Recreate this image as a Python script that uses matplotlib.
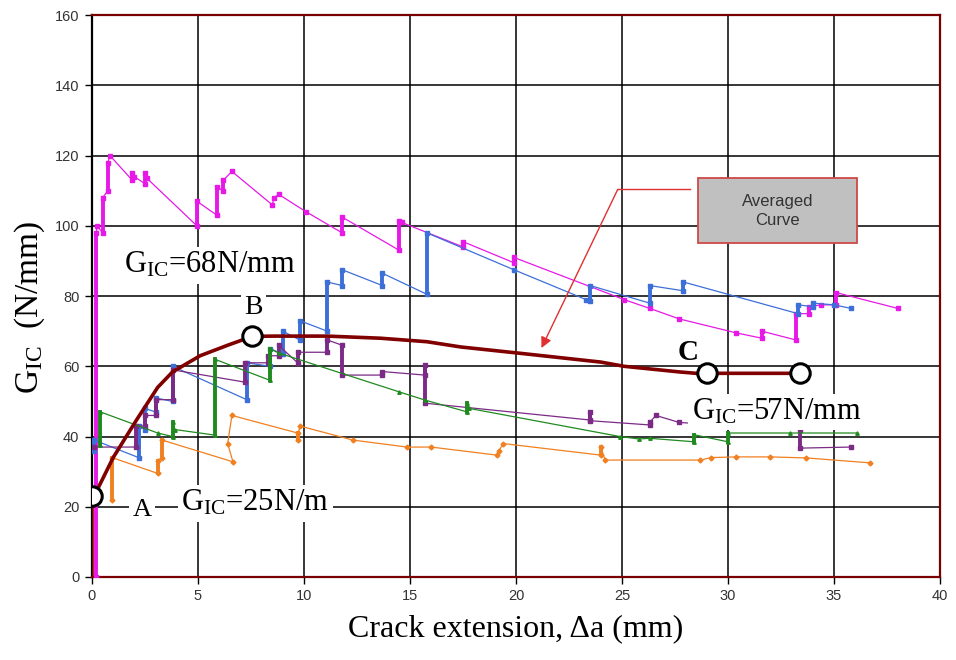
import matplotlib
matplotlib.use("Agg")
import matplotlib.pyplot as plt
from matplotlib.patches import Rectangle

plt.rcParams["mathtext.fontset"] = "custom"
plt.rcParams["mathtext.rm"] = "Liberation Serif"
plt.rcParams["mathtext.it"] = "Liberation Serif:italic"

# ---- data (crack extension mm, G_IC N/mm) ----
mag_x = [0.2, 0.2, 0.25, 0.5, 0.5, 0.75, 0.75, 0.85, 1.9, 1.9, 2.0, 2.5, 2.5, 2.6, 4.95, 4.95,
         5.9, 5.9, 6.2, 6.2, 6.6, 8.5, 8.6, 8.8, 10.1, 11.8, 11.8, 14.5, 14.5, 14.6, 17.5, 17.5,
         19.9, 19.9, 25.1, 26.3, 27.7, 30.4, 31.6, 31.6, 33.2, 33.2, 33.8, 33.8, 34.4, 35.1, 35.1, 38.0]
mag_y = [0, 98, 100, 98, 108, 110, 118, 120, 113, 115, 114, 112, 115, 113.5, 100, 107,
         103, 111, 110, 113, 115.5, 106, 108, 109, 104, 98, 102.5, 93, 101.5, 101, 94, 95.5,
         89.5, 91, 79, 76.5, 73.5, 69.5, 68, 70, 67.5, 75, 75, 77, 77.5, 77.5, 81, 76.5]

blue_x = [0.1, 0.1, 2.2, 2.2, 2.5, 2.5, 3.0, 3.0, 3.8, 3.8, 7.3, 7.3, 8.4, 8.4, 9.0, 9.0, 9.8, 9.8,
          11.1, 11.1, 11.8, 11.8, 13.7, 13.7, 15.8, 15.8, 19.9, 23.3, 23.5, 23.5, 26.3, 26.3,
          27.9, 27.9, 33.3, 33.3, 34.0, 34.0, 35.0, 35.8]
blue_y = [36, 39, 34, 43, 42, 48, 47, 51, 50, 60, 50.5, 61, 60, 65, 63.5, 70, 67.5, 73,
          70, 84, 83, 87.5, 83, 86.5, 80.5, 98, 87.5, 79, 78.5, 83, 78, 83,
          81.5, 84, 75, 77.5, 77, 78, 77.5, 76.5]

pur_x = [0.1, 2.1, 2.1, 2.5, 2.5, 3.0, 3.0, 3.8, 3.8, 7.2, 7.2, 8.3, 8.3, 8.8, 8.8, 9.7, 9.7,
         11.1, 11.1, 11.8, 11.8, 13.7, 13.7, 15.7, 15.7, 15.7, 23.5, 23.5, 23.5, 26.3, 26.3,
         26.6, 27.7, 33.4, 33.4, 35.8]
pur_y = [37, 37, 43, 43, 46, 46, 50.5, 50.5, 59, 55.5, 61, 61, 63, 63, 66, 61, 64,
         64, 67.5, 66, 57.5, 57.5, 58.5, 57.5, 60.5, 49.5, 44.7, 47, 44.5, 43.3, 44,
         46, 44, 42, 36.7, 37]

grn_x = [0.4, 0.4, 3.1, 3.8, 3.8, 3.9, 5.8, 5.8, 8.4, 8.4, 8.8, 14.5, 15.7, 17.7, 17.7, 17.8,
         24.9, 25.8, 26.3, 28.4, 28.4, 30.0, 30.0, 32.9, 36.1]
grn_y = [37.5, 47, 41, 40, 44, 42, 40.4, 62, 56, 65, 63.8, 52.7, 50.4, 47, 49.5, 48,
         40, 39.3, 39.5, 38.5, 40.5, 38.5, 41, 41, 41]

org_x = [0.95, 0.95, 3.1, 3.1, 3.3, 3.3, 6.65, 6.4, 6.6, 9.7, 9.7, 9.8, 12.3, 14.85, 16.0,
         19.1, 19.2, 19.4, 24.0, 24.0, 24.2, 28.7, 29.2, 30.4, 32.0, 33.7, 36.7]
org_y = [22, 34, 29.5, 33, 34, 39, 32.8, 38, 46, 41, 39, 43, 39, 37, 37,
         34.7, 36, 38, 34.7, 37, 33.3, 33.3, 34, 34.2, 34.2, 33.9, 32.5]

avg_x = [0, 0, 0.1, 1.0, 2.1, 3.1, 3.8, 5.1, 6.4, 7.55, 8.5, 11.1, 13.6, 15.8, 17.4, 20.2,
         24.0, 25.1, 27.7, 28.5, 33.2]
avg_y = [0, 23, 23, 34, 44.7, 54, 58.4, 63, 66, 68.5, 68.6, 68.6, 68, 67, 65.5, 63.7,
         61.2, 60, 58.4, 58, 58]

circ_x = [0, 7.55, 29.0, 33.4]
circ_y = [23, 68.5, 58, 58]

SERIES = [
    (mag_x, mag_y, "#e619e6", "s"),
    (blue_x, blue_y, "#3d6fd8", "s"),
    (pur_x, pur_y, "#7b2a86", "s"),
    (grn_x, grn_y, "#1f8a1f", "^"),
    (org_x, org_y, "#f08020", "D"),
]

fig = plt.figure(figsize=(9.56, 6.6), dpi=100)
ax = fig.add_axes([0.0962, 0.1258, 0.8871, 0.8512])

for xs, ys, c, m in SERIES:
    ax.plot(xs, ys, color=c, lw=0.9, marker=m, ms=2.5, mec=c, zorder=3)
    # jumps drawn heavier, the markers crowd there in the original
    for i in range(len(xs) - 1):
        if xs[i] == xs[i + 1]:
            ax.plot(xs[i:i + 2], ys[i:i + 2], color=c, lw=2.8, zorder=3)

ax.plot(avg_x, avg_y, color="#800000", lw=2.6, zorder=4)
ax.plot(circ_x, circ_y, ls="none", marker="o", ms=14, mfc="white", mec="black",
        mew=2.2, zorder=6)

ax.set_xlim(0, 40)
ax.set_ylim(0, 160)
ax.set_xticks(range(0, 41, 5))
ax.set_yticks(range(0, 161, 20))
ax.grid(True, color="black", lw=1.1)
ax.set_axisbelow(True)
ax.tick_params(direction="out", length=5, width=1, color="black", labelsize=10.5,
               labelcolor="#333333", pad=4)
for lab in ax.get_xticklabels() + ax.get_yticklabels():
    lab.set_fontfamily(["Liberation Sans Narrow", "Liberation Sans"])
for s in ax.spines.values():
    s.set_color("#7a0000")
    s.set_linewidth(1.6)
ax.spines["left"].set_color("black")

ax.set_xlabel("Crack extension, Δa (mm)", fontsize=23, family="Liberation Serif", labelpad=8)
ax.set_ylabel(r"$\mathrm{G_{IC}}$  (N/mm)", fontsize=24, family="Liberation Serif")
ax.yaxis.set_label_coords(-0.053, 0.48)

wb = dict(boxstyle="square,pad=0.12", fc="white", ec="none")
ax.text(5.57, 88.8, r"$\mathrm{G_{IC}}$=68N/mm", fontsize=22, family="Liberation Serif",
        ha="center", va="center", bbox=wb, zorder=7)
ax.text(7.6, 76.8, "B", fontsize=20, family="Liberation Serif", ha="center", va="center",
        bbox=wb, zorder=7)
ax.text(28.1, 64.0, "C", fontsize=21, family="Liberation Serif", weight="bold",
        ha="center", va="center", zorder=7)
ax.text(32.3, 47.0, r"$\mathrm{G_{IC}}$=57N/mm", fontsize=22, family="Liberation Serif",
        ha="center", va="center", bbox=wb, zorder=7)
ax.text(2.36, 19.0, "A", fontsize=19, family="Liberation Serif", ha="center", va="center",
        bbox=wb, zorder=7)
ax.text(7.7, 21.0, r"$\mathrm{G_{IC}}$=25N/m", fontsize=22, family="Liberation Serif",
        ha="center", va="center", bbox=wb, zorder=7)

# callout box with red leader arrow
ax.plot([28.2, 24.8], [110.4, 110.4], color="#e03030", lw=1.0, zorder=5)
ax.annotate("", xy=(21.2, 65.2), xytext=(24.8, 110.4),
            arrowprops=dict(arrowstyle="-|>", color="#e03030", lw=1.0,
                            mutation_scale=16, shrinkA=0, shrinkB=0), zorder=5)
ax.add_patch(Rectangle((28.6, 95.1), 7.5, 18.5, fc="#c0c0c0", ec="#d04848", lw=1.3,
                       zorder=7))
ax.text(32.35, 104.3, "Averaged\nCurve", fontsize=12, family="Liberation Sans",
        color="#333333", ha="center", va="center", linespacing=1.3, zorder=8)

fig.savefig("out.png", dpi=100, facecolor="white")
